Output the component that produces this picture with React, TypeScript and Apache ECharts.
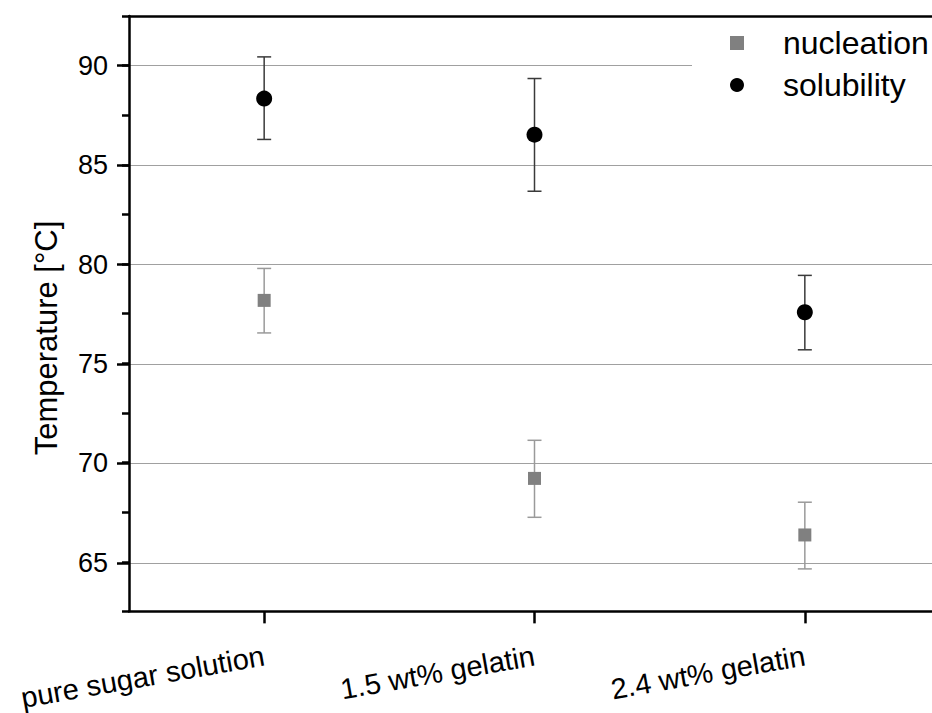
import React, { useEffect, useRef } from "react";
import * as echarts from "echarts";

const categories = ["pure sugar solution", "1.5 wt% gelatin", "2.4 wt% gelatin"];
const nucleationMean = [78.17, 69.2, 66.35];
const nucleationLow = [76.53, 67.24, 64.64];
const nucleationHigh = [79.78, 71.12, 68.0];
const solubilityMean = [88.34, 86.52, 77.57];
const solubilityLow = [86.28, 83.67, 75.68];
const solubilityHigh = [90.44, 89.35, 79.43];
const yMin = 62.5;
const yMax = 92.5;
const majorMin = 65;
const majorMax = 90;

const FONT = "'Liberation Sans', Arial, Helvetica, sans-serif";

function errorBars(name: string, low: number[], high: number[], color: string) {
  return {
    type: "custom",
    name: name + " error",
    xAxisIndex: 0,
    yAxisIndex: 0,
    z: 1,
    silent: true,
    clip: false,
    data: categories.map((_, i) => [i, low[i], high[i]]),
    renderItem: (params: any, api: any) => {
      const x = api.value(0);
      const lo = api.coord([x, api.value(1)]);
      const hi = api.coord([x, api.value(2)]);
      const hw = 7;
      const style = { stroke: color, lineWidth: 1.5 };
      return {
        type: "group",
        children: [
          { type: "line", shape: { x1: lo[0], y1: lo[1], x2: hi[0], y2: hi[1] }, style },
          { type: "line", shape: { x1: hi[0] - hw, y1: hi[1], x2: hi[0] + hw, y2: hi[1] }, style },
          { type: "line", shape: { x1: lo[0] - hw, y1: lo[1], x2: lo[0] + hw, y2: lo[1] }, style },
        ],
      };
    },
  };
}

export default function App() {
  const ref = useRef<HTMLDivElement>(null);
  useEffect(() => {
    if (!ref.current) return;
    const chart = echarts.init(ref.current, null, { renderer: "svg" });
    const gridLeft = 129;
    const gridWidth = 811;
    const plotTop = 16;
    const plotBottom = 612.5;
    const pxPerUnit = (plotBottom - plotTop) / (yMax - yMin);
    const topMajor = plotTop + (yMax - majorMax) * pxPerUnit;
    const bottomMajor = plotBottom - (majorMin - yMin) * pxPerUnit;
    chart.setOption({
      animation: false,
      backgroundColor: "#ffffff",
      textStyle: { fontFamily: FONT },
      grid: [
        { left: gridLeft, width: gridWidth, top: plotTop, height: plotBottom - plotTop },
        { left: gridLeft, width: gridWidth, top: topMajor, height: bottomMajor - topMajor },
      ],
      legend: {
        orient: "vertical",
        left: 692,
        top: 20,
        padding: [5, 30, 8, 38],
        backgroundColor: "#ffffff",
        itemWidth: 14,
        itemHeight: 14,
        itemGap: 6,
        textStyle: {
          fontFamily: FONT,
          fontSize: 32,
          color: "#000",
          lineHeight: 36,
          padding: [0, 0, 0, 34],
        },
        data: [
          { name: "nucleation", icon: "rect", itemStyle: { color: "#808080", opacity: 1 } },
          { name: "solubility", icon: "circle", itemStyle: { color: "#000000", opacity: 1 } },
        ],
      },
      xAxis: [
        {
          type: "category",
          gridIndex: 0,
          position: "bottom",
          data: categories,
          boundaryGap: true,
          axisLine: { show: true, lineStyle: { color: "#000", width: 2.5 } },
          axisTick: { show: true, alignWithLabel: true, inside: false, length: 12, lineStyle: { color: "#000", width: 2.5 } },
          axisLabel: {
            show: true,
            rotate: 10,
            margin: 44,
            fontFamily: FONT,
            fontSize: 29,
            color: "#000",
          },
          splitLine: { show: false },
        },
        {
          type: "category",
          gridIndex: 0,
          position: "top",
          data: categories,
          axisLine: { show: true, lineStyle: { color: "#000", width: 2.5 } },
          axisTick: { show: false },
          axisLabel: { show: false },
          splitLine: { show: false },
        },
        {
          type: "category",
          gridIndex: 1,
          data: categories,
          show: false,
        },
      ],
      yAxis: [
        {
          type: "value",
          gridIndex: 0,
          min: yMin,
          max: yMax,
          interval: 2.5,
          axisLine: { show: true, lineStyle: { color: "#000", width: 2.5 } },
          axisTick: { show: true, inside: false, length: 7, lineStyle: { color: "#000", width: 2.5 } },
          axisLabel: { show: false },
          splitLine: { show: false },
        },
        {
          type: "value",
          gridIndex: 1,
          min: majorMin,
          max: majorMax,
          interval: 5,
          axisLine: { show: false },
          axisTick: { show: true, inside: false, length: 12, lineStyle: { color: "#000", width: 2.5 } },
          axisLabel: {
            show: true,
            margin: 21,
            fontFamily: FONT,
            fontSize: 27,
            color: "#000",
          },
          splitLine: { show: true, lineStyle: { color: "#a0a0a0", width: 1.2 } },
        },
      ],
      graphic: [
        {
          type: "text",
          x: 46,
          y: 338,
          rotation: Math.PI / 2,
          style: {
            text: "Temperature [°C]",
            fontFamily: FONT,
            fontSize: 31,
            fill: "#000",
            textAlign: "center",
            textVerticalAlign: "middle",
          },
        },
      ],
      series: [
        errorBars("nucleation", nucleationLow, nucleationHigh, "#9a9a9a"),
        errorBars("solubility", solubilityLow, solubilityHigh, "#3a3a3a"),
        {
          type: "scatter",
          name: "nucleation",
          xAxisIndex: 0,
          yAxisIndex: 0,
          z: 3,
          symbol: "rect",
          symbolSize: 13,
          itemStyle: { color: "#808080", opacity: 1 },
          data: nucleationMean.map((v, i) => [i, v]),
        },
        {
          type: "scatter",
          name: "solubility",
          xAxisIndex: 0,
          yAxisIndex: 0,
          z: 3,
          symbol: "circle",
          symbolSize: 16,
          itemStyle: { color: "#000000", opacity: 1 },
          data: solubilityMean.map((v, i) => [i, v]),
        },
      ],
    });
    return () => chart.dispose();
  }, []);
  return (
    <div style={{ position: "fixed", left: 0, top: 0, width: 932, height: 713, overflow: "hidden", background: "#fff" }}>
      <div ref={ref} style={{ position: "absolute", left: 0, top: 0, width: 950, height: 713 }} />
    </div>
  );
}
